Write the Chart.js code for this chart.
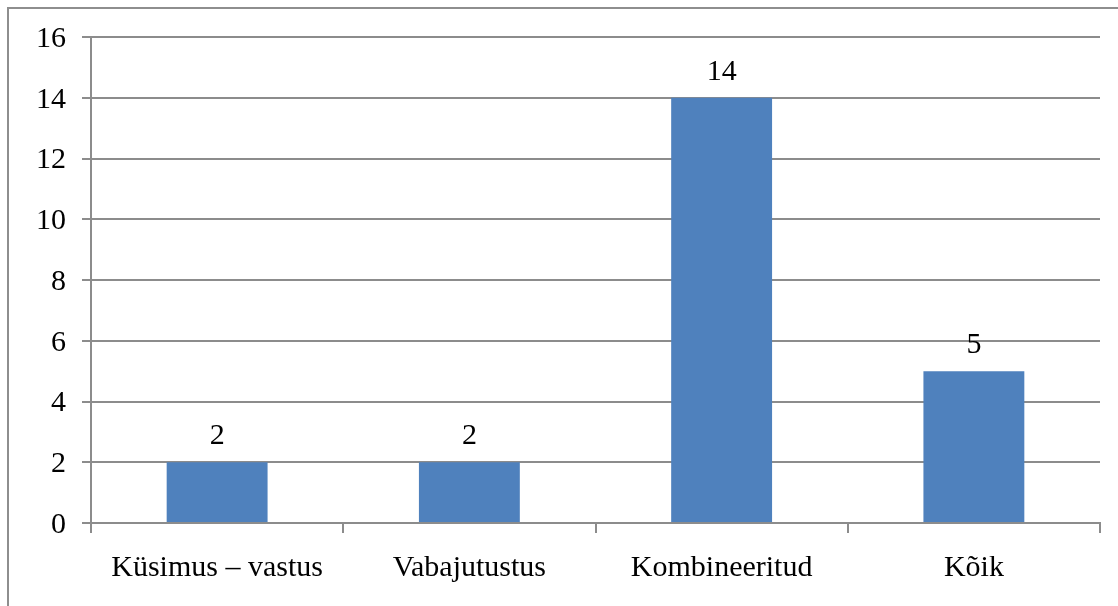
<!DOCTYPE html>
<html>
<head>
<meta charset="utf-8">
<script src="https://cdn.jsdelivr.net/npm/chart.js@4/dist/chart.umd.min.js"></script>
<style>
  html, body { margin: 0; padding: 0; background: #fff; }
  #wrap { width: 1118px; height: 606px; position: relative; }
</style>
</head>
<body>
<div id="wrap"><canvas id="c" width="1118" height="606"></canvas></div>
<script>
const categories = ['Küsimus – vastus', 'Vabajutustus', 'Kombineeritud', 'Kõik'];
const counts = [2, 2, 14, 5];
const yTicks = [0, 2, 4, 6, 8, 10, 12, 14, 16];

const FONT = '"Liberation Serif", "Times New Roman", serif';
const GRID = '#8c8c8c';

// Outer frame of the chart area (top and left edges show inside the canvas)
const framePlugin = {
  id: 'frame',
  beforeDraw(chart) {
    const ctx = chart.ctx;
    ctx.save();
    ctx.strokeStyle = '#8e8e8e';
    ctx.lineWidth = 2;
    ctx.strokeRect(8, 8, chart.width + 20, chart.height + 20);
    ctx.restore();
  }
};

// Value labels above each bar
const valueLabels = {
  id: 'valueLabels',
  afterDatasetsDraw(chart) {
    const ctx = chart.ctx;
    const meta = chart.getDatasetMeta(0);
    ctx.save();
    ctx.font = '30px ' + FONT;
    ctx.fillStyle = '#000';
    ctx.textAlign = 'center';
    ctx.textBaseline = 'alphabetic';
    meta.data.forEach((bar, i) => {
      ctx.fillText(String(counts[i]), bar.x, bar.y - 18);
    });
    ctx.restore();
  }
};

new Chart(document.getElementById('c'), {
  type: 'bar',
  data: {
    labels: categories,
    datasets: [{
      data: counts,
      backgroundColor: '#4f81bd',
      borderWidth: 0,
      categoryPercentage: 1,
      barPercentage: 0.4
    }]
  },
  options: {
    responsive: false,
    animation: false,
    devicePixelRatio: 1,
    layout: { padding: { top: 37, right: 18, left: 0, bottom: 0 } },
    plugins: { legend: { display: false }, tooltip: { enabled: false } },
    scales: {
      x: {
        offset: true,
        grid: {
          offset: true,
          drawOnChartArea: false,
          drawTicks: true,
          tickLength: 10,
          color: GRID,
          lineWidth: 2
        },
        border: { display: true, color: GRID, width: 2 },
        ticks: {
          color: '#000',
          font: { family: FONT, size: 30 },
          padding: 17,
          maxRotation: 0
        },
        afterFit(scale) { scale.height = 83; }
      },
      y: {
        min: 0,
        max: 16,
        afterBuildTicks(scale) { scale.ticks = yTicks.map(v => ({ value: v })); },
        grid: {
          color: GRID,
          lineWidth: 2,
          drawTicks: true,
          tickLength: 9
        },
        border: { display: true, color: GRID, width: 2 },
        ticks: {
          color: '#000',
          font: { family: FONT, size: 30 },
          padding: 16,
          labelOffset: 2
        },
        afterFit(scale) { scale.width = 91; }
      }
    }
  },
  plugins: [framePlugin, valueLabels]
});
</script>
</body>
</html>
